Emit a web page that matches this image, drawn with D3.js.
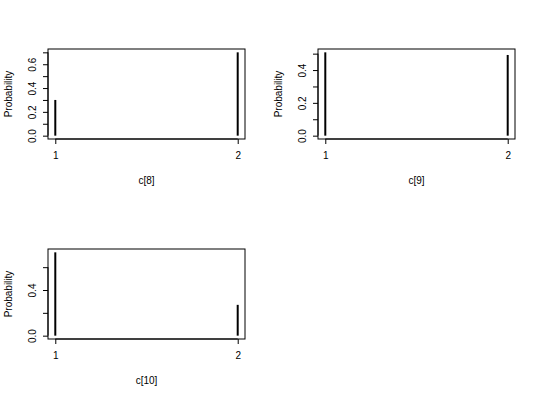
<!DOCTYPE html>
<html>
<head>
<meta charset="utf-8">
<script src="https://cdn.jsdelivr.net/npm/d3@7/dist/d3.min.js"></script>
<style>
  html, body { margin: 0; padding: 0; background: #fff; }
  svg { display: block; }
  text { font-family: "Liberation Sans", Arial, Helvetica, sans-serif; font-size: 10px; fill: #000; }
</style>
</head>
<body>
<svg id="chart" width="540" height="400"></svg>
<script>
// ---- data ----
const categories = [1, 2];
const xLabels = ["c[8]", "c[9]", "c[10]"];
const probC8 = [0.30, 0.70];
const probC9 = [0.508, 0.492];
const probC10 = [0.73, 0.27];
const yTicksC8 = [0, 0.1, 0.2, 0.3, 0.4, 0.5, 0.6, 0.7];
const yTicksC9 = [0, 0.1, 0.2, 0.3, 0.4, 0.5];
const yTicksC10 = [0, 0.2, 0.4, 0.6];
const yLabelsC8 = ["0.0", "0.2", "0.4", "0.6"];
const yLabelsC9 = ["0.0", "0.2", "0.4"];
const yLabelsC10 = ["0.0", "0.4"];
const yTitle = "Probability";

const panels = [
  { label: xLabels[0], values: probC8, ticks: yTicksC8, shown: yLabelsC8, col: 0, row: 0 },
  { label: xLabels[1], values: probC9, ticks: yTicksC9, shown: yLabelsC9, col: 1, row: 0 },
  { label: xLabels[2], values: probC10, ticks: yTicksC10, shown: yLabelsC10, col: 0, row: 1 }
];

const svg = d3.select("#chart");
const cellW = 270, cellH = 200;
const m = { left: 48, top: 49, right: 25, bottom: 61 };
const pw = cellW - m.left - m.right, ph = cellH - m.top - m.bottom;

panels.forEach(p => {
  const g = svg.append("g").attr("transform", `translate(${p.col * cellW},${p.row * cellH})`);
  const xmin = d3.min(categories), xmax = d3.max(categories);
  const xpad = (xmax - xmin) * 0.04;
  const x = d3.scaleLinear().domain([xmin - xpad, xmax + xpad]).range([m.left, m.left + pw]);
  const ymax = d3.max(p.values);
  const ypad = ymax * 0.04;
  const y = d3.scaleLinear().domain([-ypad, ymax + ypad]).range([m.top + ph, m.top]);

  // bars (type = "h")
  g.selectAll("line.bar").data(categories).join("line")
    .attr("class", "bar")
    .attr("x1", d => x(d)).attr("x2", d => x(d))
    .attr("y1", y(0)).attr("y2", (d, i) => y(p.values[i]))
    .attr("stroke", "#000").attr("stroke-width", 2);

  // box
  g.append("rect").attr("x", m.left).attr("y", m.top).attr("width", pw).attr("height", ph)
    .attr("fill", "none").attr("stroke", "#000").attr("stroke-width", 1);

  // y axis
  const yAxis = d3.axisLeft(y).tickValues(p.ticks).tickSize(5).tickSizeOuter(0)
    .tickFormat(d => { const s = d.toFixed(1); return p.shown.includes(s) ? s : ""; });
  const ya = g.append("g").attr("transform", `translate(${m.left},0)`).call(yAxis);
  ya.select(".domain").attr("d", `M0,${y(p.ticks[0])}V${y(p.ticks[p.ticks.length - 1])}`).attr("stroke", "#000");
  ya.selectAll(".tick line").attr("stroke", "#000");
  ya.selectAll(".tick text")
    .attr("x", null).attr("dy", null)
    .attr("transform", "translate(-12,0) rotate(-90)")
    .attr("text-anchor", "middle")
    .style("font-family", "'Liberation Sans', Arial, sans-serif").style("font-size", "10px").attr("fill", "#000");

  // x axis
  const xAxis = d3.axisBottom(x).tickValues(categories).tickSize(5).tickSizeOuter(0).tickFormat(d3.format("d"));
  const xa = g.append("g").attr("transform", `translate(0,${m.top + ph})`).call(xAxis);
  xa.select(".domain").attr("d", `M${x(categories[0])},0H${x(categories[categories.length - 1])}`).attr("stroke", "#000");
  xa.selectAll(".tick line").attr("stroke", "#000");
  xa.selectAll(".tick text").attr("y", 19.5).attr("dy", null)
    .style("font-family", "'Liberation Sans', Arial, sans-serif").style("font-size", "10px").attr("fill", "#000");

  // titles
  g.append("text").attr("x", m.left + pw / 2).attr("y", m.top + ph + 45).attr("text-anchor", "middle").text(p.label);
  g.append("text").attr("transform", `translate(11.5,${m.top + ph / 2}) rotate(-90)`).attr("text-anchor", "middle").text(yTitle);
});
</script>
</body>
</html>
